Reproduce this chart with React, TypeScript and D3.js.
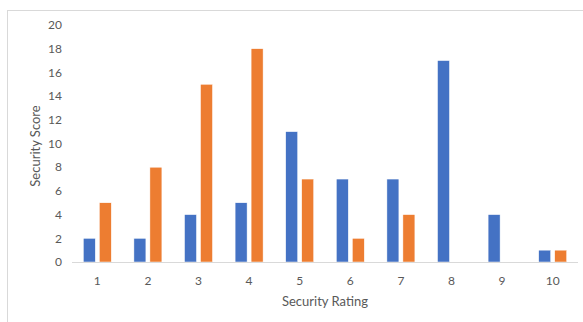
import React from "react";
import * as d3 from "d3";

const categories = ["1", "2", "3", "4", "5", "6", "7", "8", "9", "10"];
const seriesBlue = [2, 2, 4, 5, 11, 7, 7, 17, 4, 1];
const seriesOrange = [5, 8, 15, 18, 7, 2, 4, 0, 0, 1];
const yTicks = [0, 2, 4, 6, 8, 10, 12, 14, 16, 18, 20];

const W = 583;
const H = 322;
const plot = { left: 72, right: 578, top: 25, bottom: 262 };
const FONT = "Lato, 'Open Sans', sans-serif";
const TXT = "#595959";

export default function App() {
  const x = d3.scaleBand<string>().domain(categories).range([plot.left, plot.right]);
  const y = d3.scaleLinear().domain([0, 20]).range([plot.bottom, plot.top]);
  const bw = 12;
  const gap = 2;

  return (
    <svg width={W} height={H} style={{ position: "absolute", left: 0, top: 0, background: "#fff" }}>
      <rect x={7.5} y={10.5} width={W + 10} height={H + 10} fill="#fff" stroke="#d9d9d9" strokeWidth={1} />
      {yTicks.map((t) => (
        <text key={t} x={62} y={y(t)} dy="0.35em" textAnchor="end" fontSize={12} fontFamily={FONT} fill={TXT}>
          {t}
        </text>
      ))}
      {categories.map((c, i) => {
        const cx = (x(c) as number) + x.bandwidth() / 2;
        return (
          <g key={c}>
            {seriesBlue[i] > 0 && (
              <rect x={cx - gap - bw} y={y(seriesBlue[i])} width={bw} height={plot.bottom - y(seriesBlue[i])}
                fill="#4472C4" stroke="#fff" strokeWidth={0.5} />
            )}
            {seriesOrange[i] > 0 && (
              <rect x={cx + gap} y={y(seriesOrange[i])} width={bw} height={plot.bottom - y(seriesOrange[i])}
                fill="#ED7D31" stroke="#fff" strokeWidth={0.5} />
            )}
            <text x={cx} y={285} textAnchor="middle" fontSize={12} fontFamily={FONT} fill={TXT}>{c}</text>
          </g>
        );
      })}
      <line x1={plot.left} x2={plot.right} y1={plot.bottom + 0.5} y2={plot.bottom + 0.5} stroke="#d9d9d9" strokeWidth={1} />
      <text x={325} y={306} textAnchor="middle" fontSize={13} fontFamily={FONT} fill={TXT}>Security Rating</text>
      <text transform="translate(40,146) rotate(-90)" textAnchor="middle" fontSize={13} fontFamily={FONT} fill={TXT}>
        Security Score
      </text>
    </svg>
  );
}
